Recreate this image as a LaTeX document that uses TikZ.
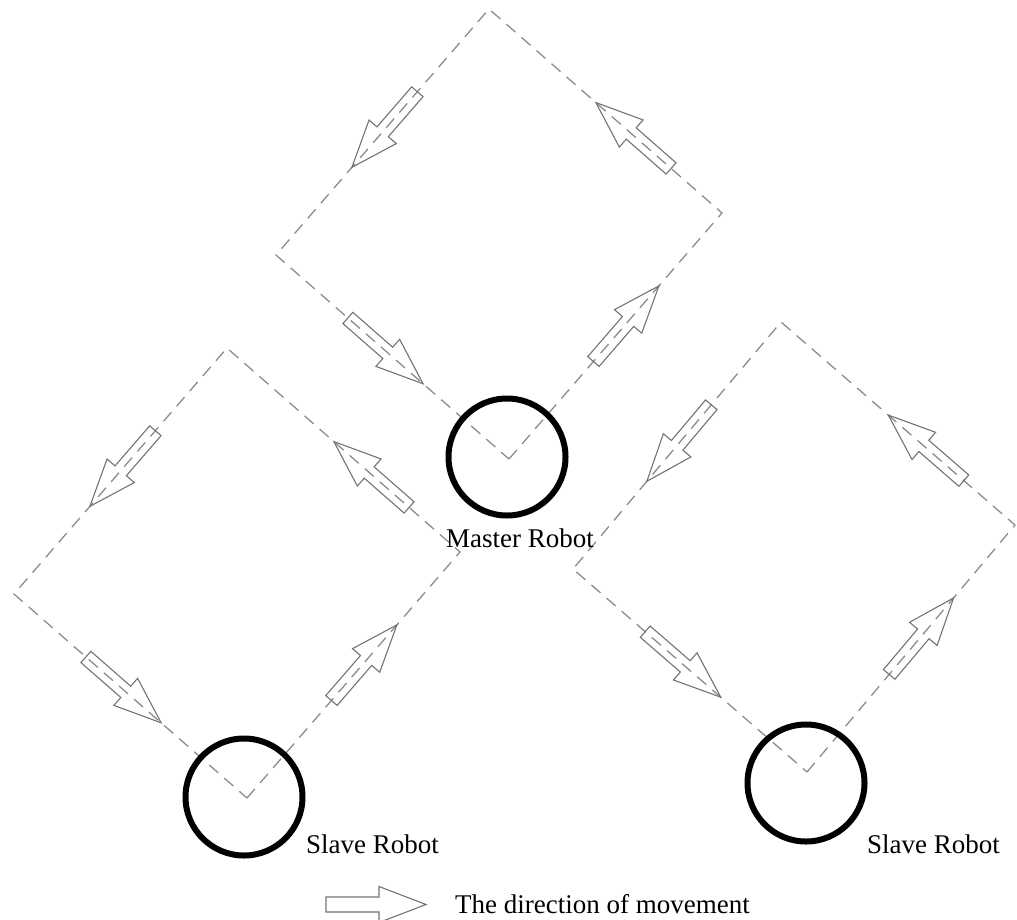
\documentclass[tikz,border=0pt]{standalone}
\usepackage{fontspec}
\setmainfont{Liberation Serif}
\usetikzlibrary{calc}
\tikzset{
  track/.style={draw=black!45, line width=1.3pt, dash pattern=on 12pt off 8pt},
  robot/.style={circle, draw=black, line width=6pt, minimum size=117pt, inner sep=0pt},
  lbl/.style={font=\fontsize{27}{32}\selectfont, inner sep=0pt, text=black},
  arrowline/.style={draw=black!55, line width=1.1pt, line join=miter},
  mvarrow/.pic={\draw[arrowline] (-50,-7.5) -- (3,-7.5) -- (3,-18) -- (50,0) -- (3,18) -- (3,7.5) -- (-50,7.5) -- cycle;}
}
\newcommand{\movesquare}[1]{%
  \draw[track] (#1B) -- (#1R) -- (#1T) -- (#1L) -- cycle;
  \path (#1B) -- (#1R) pic[pos=0.55, sloped, allow upside down] {mvarrow};
  \path (#1R) -- (#1T) pic[pos=0.38, sloped, allow upside down] {mvarrow};
  \path (#1T) -- (#1L) pic[pos=0.49, sloped, allow upside down] {mvarrow};
  \path (#1L) -- (#1B) pic[pos=0.47, sloped, allow upside down] {mvarrow};
}
\begin{document}
\begin{tikzpicture}[x=1pt, y=-1pt]
\useasboundingbox (0,0) rectangle (1017,919);
% master square corners
\coordinate (mB) at (509,459);
\coordinate (mL) at (276,255);
\coordinate (mR) at (722,213);
\coordinate (mT) at (489,9);
% left slave square corners
\coordinate (aB) at (247,798);
\coordinate (aL) at (14,594);
\coordinate (aR) at (460,552);
\coordinate (aT) at (227,348);
% right slave square corners
\coordinate (bB) at (807,772);
\coordinate (bL) at (573,569);
\coordinate (bR) at (1015,525);
\coordinate (bT) at (781,322);
\movesquare{m}
\movesquare{a}
\movesquare{b}
% robots
\node[robot] (master) at (507,457) {};
\node[robot] (slaveA) at (244,797) {};
\node[robot] (slaveB) at (806,783) {};
\node[lbl, anchor=base west] (masterlbl) at (446,547) {Master Robot};
\node[lbl, anchor=base west] (slaveAlbl) at (306,853) {Slave Robot};
\node[lbl, anchor=base west] (slaveBlbl) at (867,853) {Slave Robot};
% legend
\pic at (376,904.5) {mvarrow};
\node[lbl, anchor=base west] (legend) at (455,913) {The direction of movement};
\end{tikzpicture}
\end{document}
